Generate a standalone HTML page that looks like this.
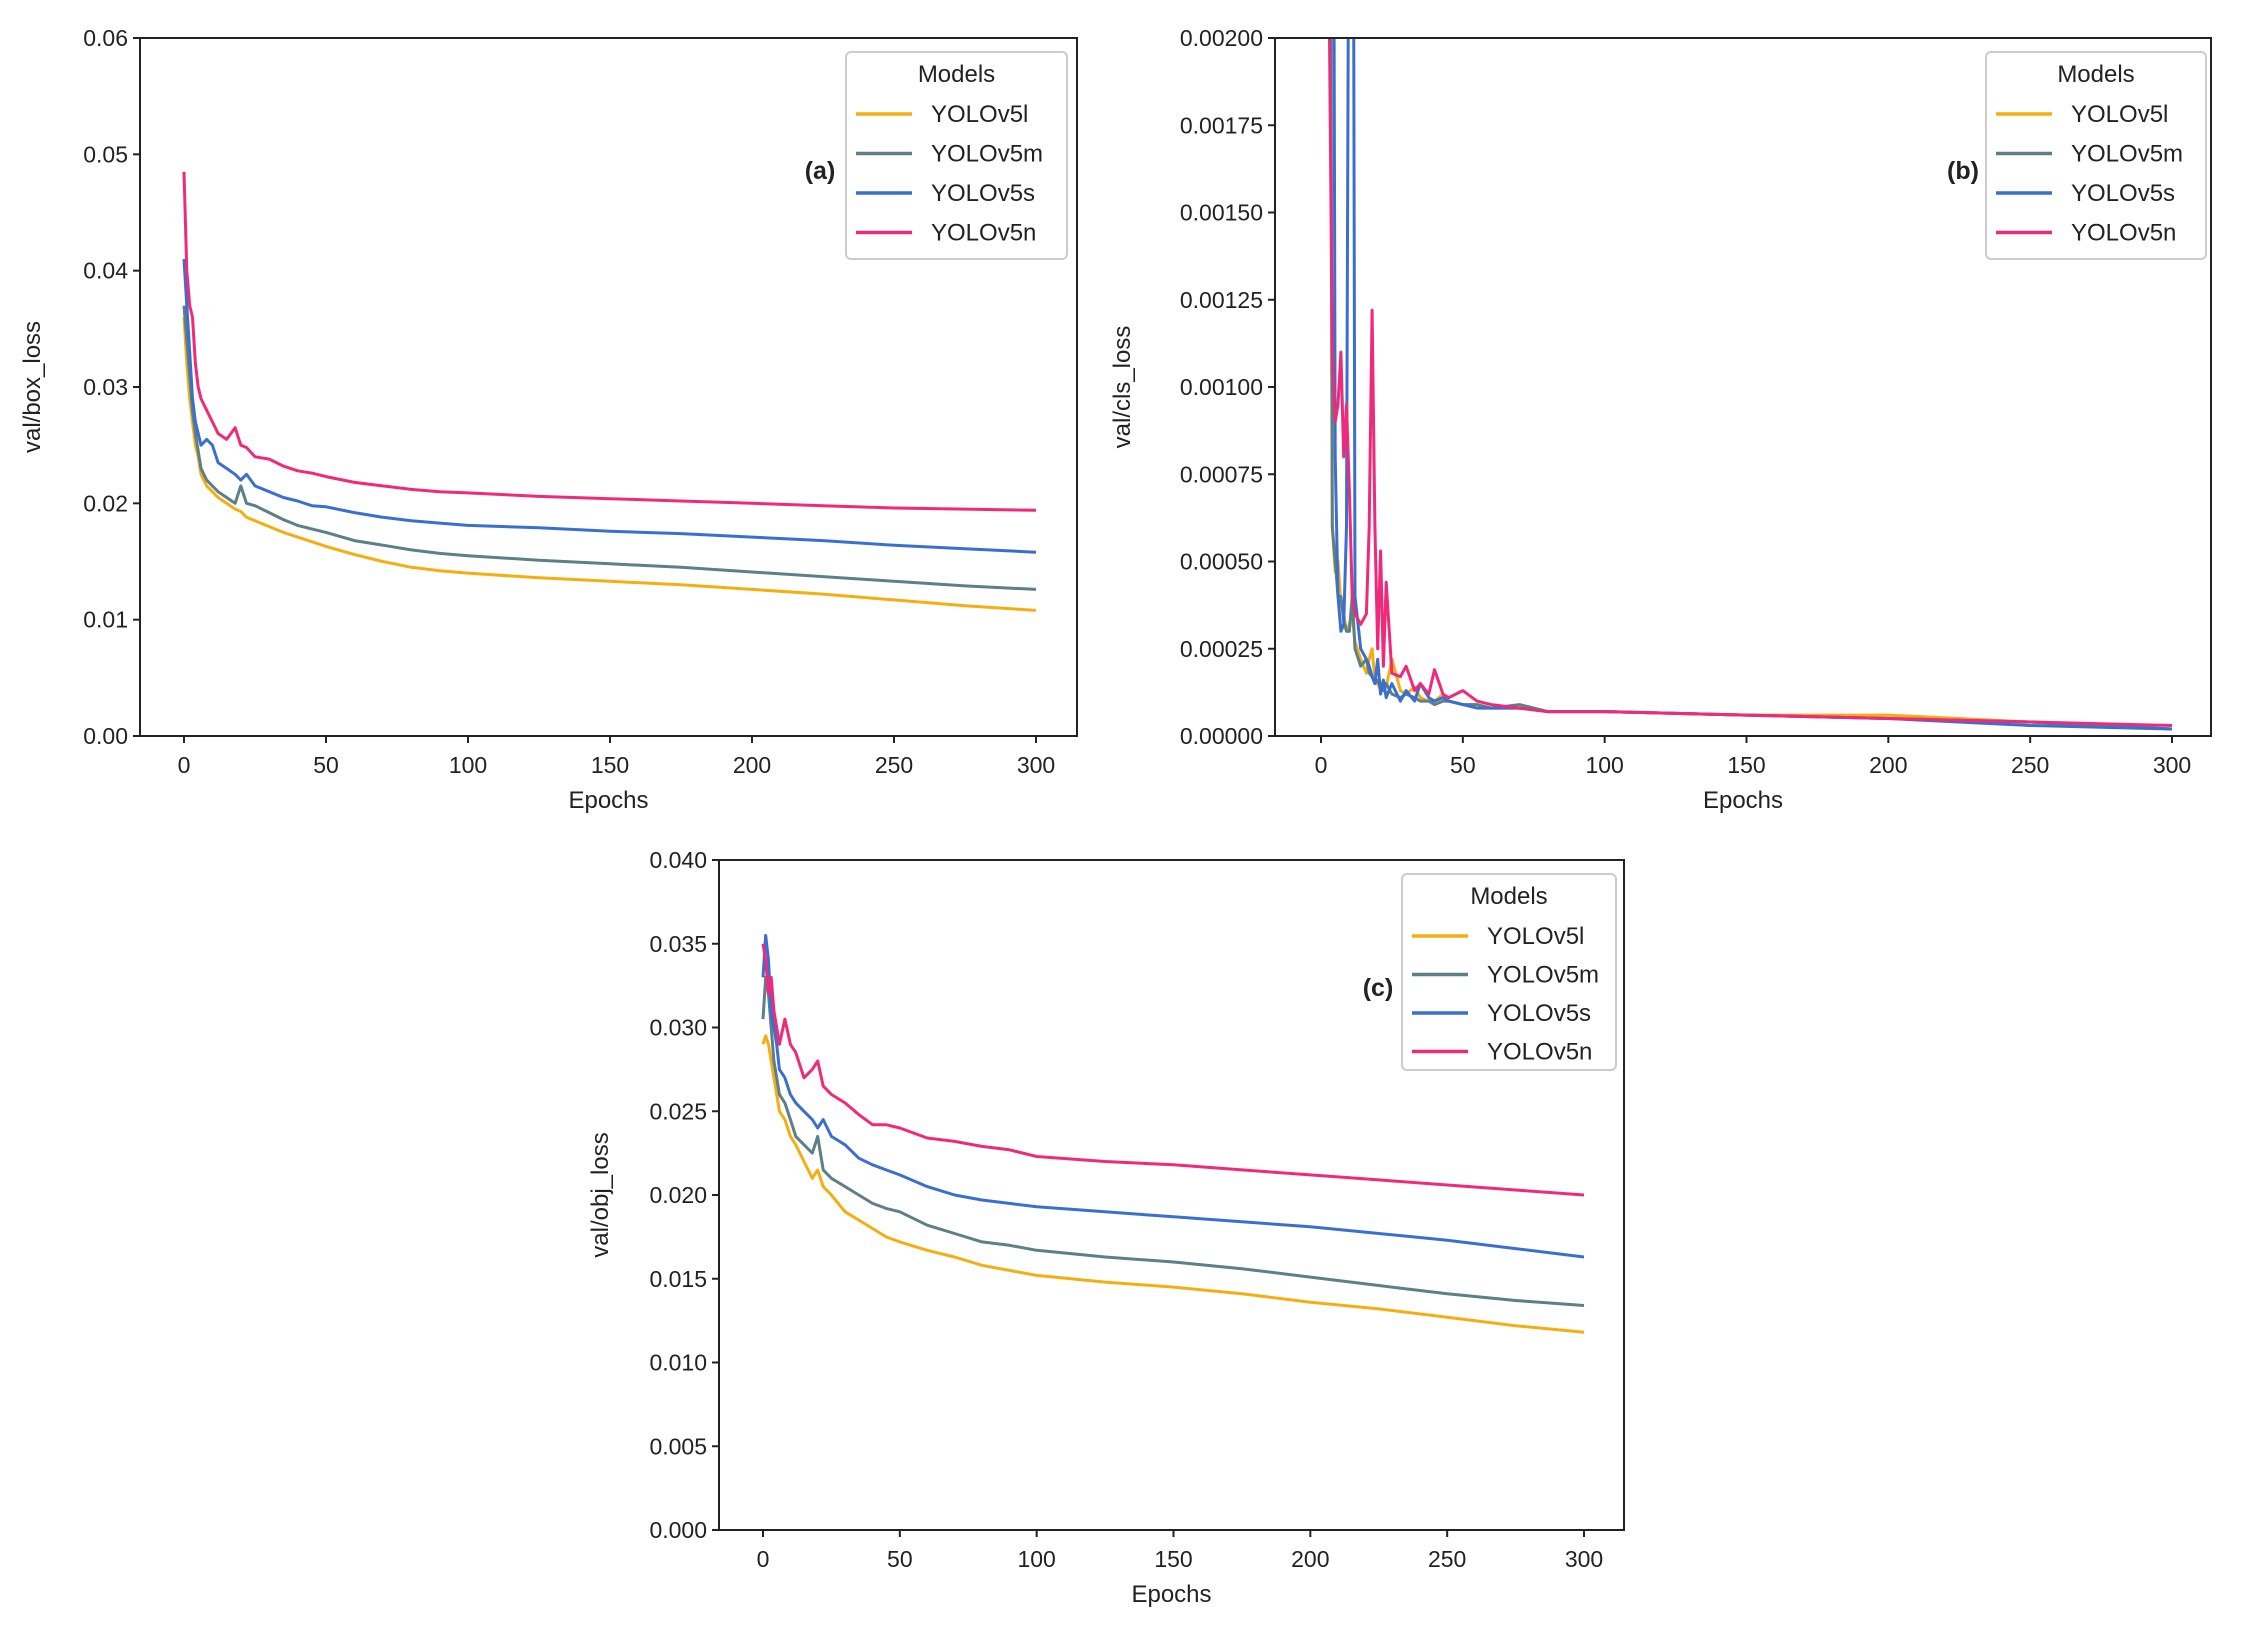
<!DOCTYPE html>
<html><head><meta charset="utf-8"><style>
html,body{margin:0;padding:0;background:#fff}
svg{display:block}
text{font-family:"Liberation Sans","DejaVu Sans",sans-serif;fill:#222}
</style></head><body>
<svg id="fig" width="2244" height="1633" viewBox="0 0 2244 1633" xmlns="http://www.w3.org/2000/svg"></svg>
<script>
const modelNames = ["YOLOv5l","YOLOv5m","YOLOv5s","YOLOv5n"];
const modelColors = ["#f5ae12","#5c7f88","#3a6fd0","#ef2a7a"];

const epochsA = [0,1,2,3,4,5,6,8,10,12,15,18,20,22,25,30,35,40,45,50,60,70,80,90,100,125,150,175,200,225,250,275,300];
const boxL = [0.036,0.032,0.029,0.027,0.025,0.024,0.0225,0.0215,0.021,0.0205,0.020,0.0195,0.0193,0.0188,0.0185,0.0180,0.0175,0.0171,0.0167,0.0163,0.0156,0.0150,0.0145,0.0142,0.0140,0.0136,0.0133,0.0130,0.0126,0.0122,0.0117,0.0112,0.0108];
const boxM = [0.037,0.034,0.031,0.028,0.026,0.0245,0.023,0.022,0.0215,0.021,0.0205,0.020,0.0215,0.020,0.0198,0.0192,0.0186,0.0181,0.0178,0.0175,0.0168,0.0164,0.0160,0.0157,0.0155,0.0151,0.0148,0.0145,0.0141,0.0137,0.0133,0.0129,0.0126];
const boxS = [0.041,0.037,0.033,0.029,0.027,0.026,0.025,0.0255,0.025,0.0235,0.023,0.0225,0.022,0.0225,0.0215,0.021,0.0205,0.0202,0.0198,0.0197,0.0192,0.0188,0.0185,0.0183,0.0181,0.0179,0.0176,0.0174,0.0171,0.0168,0.0164,0.0161,0.0158];
const boxN = [0.0485,0.040,0.037,0.036,0.032,0.030,0.029,0.028,0.027,0.026,0.0255,0.0265,0.025,0.0248,0.024,0.0238,0.0232,0.0228,0.0226,0.0223,0.0218,0.0215,0.0212,0.021,0.0209,0.0206,0.0204,0.0202,0.0200,0.0198,0.0196,0.0195,0.0194];

const epochsB = [2,3,4,5,6,7,8,9,10,11,12,14,16,17,18,19,20,21,22,23,25,28,30,33,35,38,40,43,45,50,55,60,70,80,100,150,200,250,300];
const clsL = [0.006,0.003,0.0006,0.00047,0.0005,0.00038,0.00035,0.0003,0.00032,0.00035,0.00027,0.00022,0.00018,0.00022,0.00025,0.00016,0.00015,0.00013,0.00016,0.00014,0.00022,0.00013,0.00012,0.00014,0.00011,0.0001,0.0001,0.00012,0.0001,0.00009,0.00009,0.00008,0.00008,0.00007,0.00007,0.00006,0.00006,0.00004,0.00002];
const clsM = [0.005,0.0035,0.0006,0.0005,0.0004,0.0004,0.00033,0.0003,0.0003,0.0004,0.00025,0.0002,0.00022,0.00018,0.00017,0.00015,0.00016,0.00014,0.00013,0.00015,0.00012,0.00011,0.00012,0.00011,0.0001,0.0001,0.00009,0.0001,0.0001,0.00009,0.00009,0.00008,0.00009,0.00007,0.00007,0.00006,0.00005,0.00004,0.00002];
const clsS = [0.006,0.005,0.004,0.0008,0.0004,0.0003,0.00032,0.0006,0.003,0.004,0.0004,0.00025,0.00022,0.0002,0.00017,0.00015,0.00022,0.00012,0.00016,0.00011,0.00015,0.0001,0.00013,0.0001,0.00015,0.00011,0.0001,0.00011,0.0001,0.00009,0.00008,0.00008,0.00008,0.00007,0.00007,0.00006,0.00005,0.00003,0.00002];
const clsN = [0.004,0.002,0.0011,0.0009,0.00095,0.0011,0.0008,0.00095,0.0007,0.0004,0.00035,0.00032,0.00035,0.0006,0.00122,0.0006,0.00025,0.00053,0.0002,0.00044,0.00018,0.00017,0.0002,0.00013,0.00015,0.00012,0.00019,0.00012,0.00011,0.00013,0.0001,0.00009,0.00008,0.00007,0.00007,0.00006,0.00005,0.00004,0.00003];

const epochsC = [0,1,2,3,4,5,6,8,10,12,15,18,20,22,25,30,35,40,45,50,60,70,80,90,100,125,150,175,200,225,250,275,300];
const objL = [0.029,0.0295,0.029,0.028,0.027,0.026,0.025,0.0245,0.0235,0.023,0.022,0.021,0.0215,0.0205,0.020,0.019,0.0185,0.018,0.0175,0.0172,0.0167,0.0163,0.0158,0.0155,0.0152,0.0148,0.0145,0.0141,0.0136,0.0132,0.0127,0.0122,0.0118];
const objM = [0.0305,0.033,0.032,0.030,0.028,0.027,0.026,0.0255,0.0245,0.0235,0.023,0.0225,0.0235,0.0215,0.021,0.0205,0.020,0.0195,0.0192,0.019,0.0182,0.0177,0.0172,0.0170,0.0167,0.0163,0.0160,0.0156,0.0151,0.0146,0.0141,0.0137,0.0134];
const objS = [0.033,0.0355,0.034,0.031,0.030,0.029,0.0275,0.027,0.026,0.0255,0.025,0.0245,0.024,0.0245,0.0235,0.023,0.0222,0.0218,0.0215,0.0212,0.0205,0.0200,0.0197,0.0195,0.0193,0.0190,0.0187,0.0184,0.0181,0.0177,0.0173,0.0168,0.0163];
const objN = [0.035,0.034,0.032,0.033,0.031,0.030,0.029,0.0305,0.029,0.0285,0.027,0.0275,0.028,0.0265,0.026,0.0255,0.0248,0.0242,0.0242,0.024,0.0234,0.0232,0.0229,0.0227,0.0223,0.0220,0.0218,0.0215,0.0212,0.0209,0.0206,0.0203,0.0200];

const xTicks = [0,50,100,150,200,250,300];
const yTicksA = ["0.00","0.01","0.02","0.03","0.04","0.05","0.06"];
const yTicksB = ["0.00000","0.00025","0.00050","0.00075","0.00100","0.00125","0.00150","0.00175","0.00200"];
const yTicksC = ["0.000","0.005","0.010","0.015","0.020","0.025","0.030","0.035","0.040"];

const NS = "http://www.w3.org/2000/svg";
const svg = document.getElementById("fig");
function mk(tag, attrs, parent){
  const e = document.createElementNS(NS, tag);
  for (const k in attrs) e.setAttribute(k, attrs[k]);
  (parent||svg).appendChild(e);
  return e;
}

function panel(cfg){
  const g = mk("g", {});
  
  
  const xs = v => cfg.x0 + (v/300)*(cfg.x300 - cfg.x0);
  const ymax = parseFloat(cfg.yTicks[cfg.yTicks.length-1]);
  const ys = v => cfg.bottom - (v/ymax)*(cfg.bottom - cfg.top);
  const clip = mk("clipPath", {id: cfg.id+"-clip"}, g);
  mk("rect", {x: cfg.left, y: cfg.top, width: cfg.right-cfg.left, height: cfg.bottom-cfg.top}, clip);
  const sg = mk("g", {"clip-path": "url(#"+cfg.id+"-clip)"}, g);
  cfg.series.forEach((vals, i) => {
    const d = vals.map((v, j) => (j?"L":"M") + xs(cfg.epochs[j]).toFixed(1) + "," + ys(v).toFixed(1)).join(" ");
    const p = mk("path", {d: d, fill: "none", stroke: modelColors[i], "stroke-width": 3, "stroke-linejoin": "round"}, sg);
    
    
  });
  const fr = mk("rect", {x: cfg.left, y: cfg.top, width: cfg.right-cfg.left, height: cfg.bottom-cfg.top, fill: "none", stroke: "#222", "stroke-width": 2}, g);
  
  
  xTicks.forEach(t => {
    const x = xs(t);
    mk("line", {x1: x, x2: x, y1: cfg.bottom, y2: cfg.bottom+7, stroke: "#222", "stroke-width": 2}, g);
    const tx = mk("text", {x: x, y: cfg.bottom+37, "text-anchor": "middle", "font-size": 23}, g);
    tx.textContent = t;
    
    
  });
  cfg.yTicks.forEach(t => {
    const y = ys(parseFloat(t));
    mk("line", {x1: cfg.left-7, x2: cfg.left, y1: y, y2: y, stroke: "#222", "stroke-width": 2}, g);
    const tx = mk("text", {x: cfg.left-12, y: y+8, "text-anchor": "end", "font-size": 23}, g);
    tx.textContent = t;
    
    
  });
  const xl = mk("text", {x: (cfg.left+cfg.right)/2, y: cfg.bottom+72, "text-anchor": "middle", "font-size": 24}, g);
  xl.textContent = "Epochs";
  
  
  const cy = (cfg.top+cfg.bottom)/2;
  const yl = mk("text", {x: cfg.ylabX, y: cy, "text-anchor": "middle", "font-size": 24, transform: "rotate(-90 "+cfg.ylabX+" "+cy+")"}, g);
  yl.textContent = cfg.ylabel;
  
  
  const lg = mk("g", {}, g);
  
  
  const L = cfg.legend;
  mk("rect", {x: L.x, y: L.y, width: L.w, height: L.h, rx: 5, fill: "#fff", stroke: "#ccc", "stroke-width": 2}, lg);
  const lt = mk("text", {x: L.x + L.w/2, y: L.y+30, "text-anchor": "middle", "font-size": 24}, lg);
  lt.textContent = "Models";
  
  
  modelNames.forEach((n, i) => {
    const yy = L.y + 62 + i*L.gap;
    const eg = mk("g", {}, lg);
    
    
    mk("line", {x1: L.x+10, x2: L.x+66, y1: yy, y2: yy, stroke: modelColors[i], "stroke-width": 3.5}, eg);
    const et = mk("text", {x: L.x+85, y: yy+8, "font-size": 24}, eg);
    et.textContent = n;
  });
  const tag = mk("text", {x: cfg.tag[0], y: cfg.tag[1], "text-anchor": "middle", "font-size": 25, "font-weight": "bold"}, g);
  tag.textContent = cfg.tagText;
  
  
}

panel({id:"box-loss", left:140, right:1077, top:38, bottom:736, x0:184, x300:1036,
  yTicks:yTicksA, epochs:epochsA, series:[boxL,boxM,boxS,boxN], ylabel:"val/box_loss", ylabX:40,
  legend:{x:846,y:52,w:221,h:207,gap:39.5}, tag:[820,179], tagText:"(a)"});
panel({id:"cls-loss", left:1275, right:2211, top:38, bottom:736, x0:1321, x300:2172,
  yTicks:yTicksB, epochs:epochsB, series:[clsL,clsM,clsS,clsN], ylabel:"val/cls_loss", ylabX:1130,
  legend:{x:1986,y:52,w:220,h:207,gap:39.5}, tag:[1963,179], tagText:"(b)"});
panel({id:"obj-loss", left:719, right:1624, top:860, bottom:1530, x0:763, x300:1584,
  yTicks:yTicksC, epochs:epochsC, series:[objL,objM,objS,objN], ylabel:"val/obj_loss", ylabX:608,
  legend:{x:1402,y:874,w:214,h:196,gap:38.5}, tag:[1378,996], tagText:"(c)"});
</script>
</body></html>
